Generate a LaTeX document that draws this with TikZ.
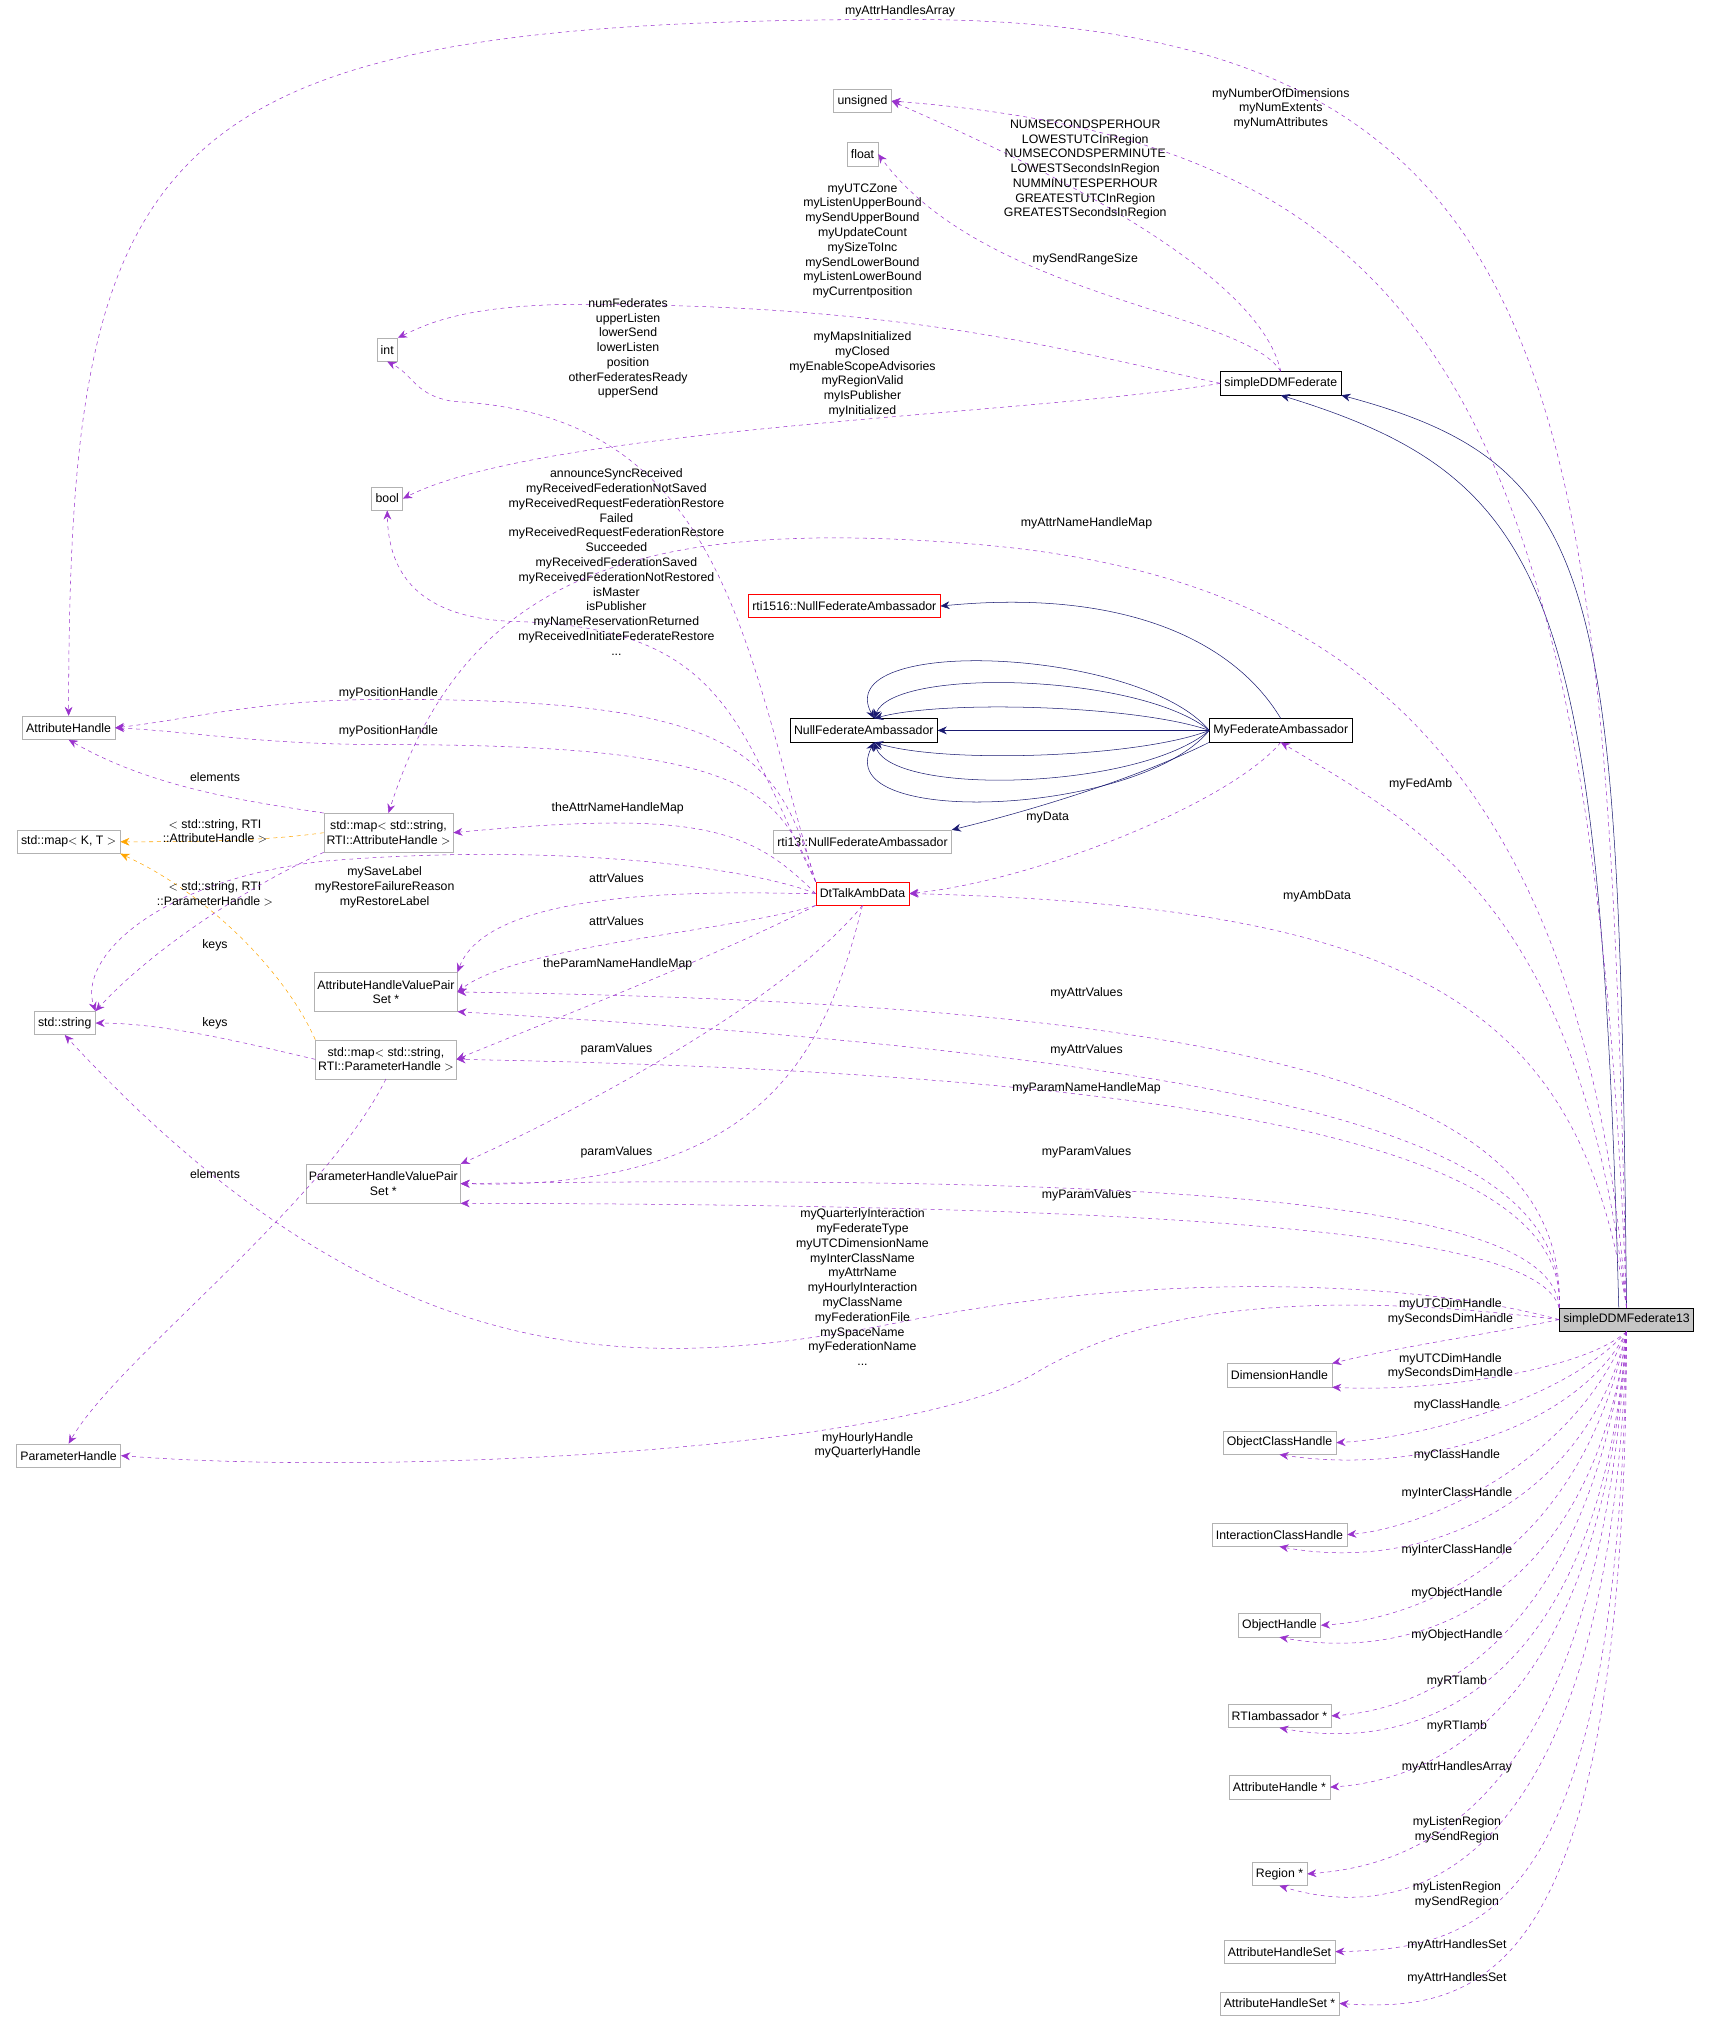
\documentclass[tikz,border=0pt]{standalone}
\usepackage{fontspec}
\setmainfont{Liberation Sans}
\usetikzlibrary{arrows.meta}
\definecolor{dep}{HTML}{9A32CD}
\definecolor{inh}{HTML}{191970}
\definecolor{tpl}{HTML}{FFA500}
\begin{document}
\begin{tikzpicture}[x=1pt,y=-1pt,
  every node/.style={font=\fontsize{9.5}{11.4}\selectfont},
  box/.style={draw=gray!60,fill=white,inner sep=3pt,minimum height=18pt,align=center},
  bbox/.style={box,draw=black},
  rbox/.style={box,draw=red},
  lab/.style={align=center,inner sep=0pt},
  d/.style={dashed,draw=dep,-{Stealth[length=7pt,width=6pt]}},
  o/.style={dashed,draw=tpl,-{Stealth[length=7pt,width=6pt]}},
  s/.style={draw=inh,-{Stealth[length=7pt,width=6pt]}}]
\useasboundingbox (0,0) rectangle (1320,1566);
\node[box] (uns) at (666,78) {unsigned};
\node[box] (flt) at (666,119) {float};
\node[box] (int) at (299,270) {int};
\node[box] (bool) at (299,385) {bool};
\node[box] (ah) at (53,562) {AttributeHandle};
\node[box] (mkt) at (53,650) {std::map$<$ K, T $>$};
\node[box] (str) at (50,790) {std::string};
\node[box] (ph) at (53,1124) {ParameterHandle};
\node[bbox] (sdf) at (989,296) {simpleDDMFederate};
\node[rbox] (r1516) at (652,468) {rti1516::NullFederateAmbassador};
\node[bbox] (nfa) at (667,564) {NullFederateAmbassador};
\node[bbox] (mfa) at (989,564) {MyFederateAmbassador};
\node[box] (r13) at (666,650) {rti13::NullFederateAmbassador};
\node[rbox] (dt) at (666,690) {DtTalkAmbData};
\node[box,minimum height=30pt,inner sep=2pt] (mah) at (300,643) {std::map$<$ std::string,\\RTI::AttributeHandle $>$};
\node[box,minimum height=30pt,inner sep=2pt] (ahv) at (298,766) {AttributeHandleValuePair\\Set *};
\node[box,minimum height=30pt,inner sep=2pt] (mph) at (298,818) {std::map$<$ std::string,\\RTI::ParameterHandle $>$};
\node[box,minimum height=30pt,inner sep=2pt] (phv) at (296,914) {ParameterHandleValuePair\\Set *};
\node[draw=black,fill=gray!45,inner sep=3pt,minimum height=18pt] (sd) at (1256,1019) {simpleDDMFederate13};
\node[box] (dim) at (988,1062) {DimensionHandle};
\node[box] (och) at (988,1114) {ObjectClassHandle};
\node[box] (ich) at (988,1185) {InteractionClassHandle};
\node[box] (oh) at (988,1255) {ObjectHandle};
\node[box] (rti) at (988,1325) {RTIambassador *};
\node[box] (ahp) at (988,1380) {AttributeHandle *};
\node[box] (reg) at (988,1447) {Region *};
\node[box] (ahs) at (988,1507) {AttributeHandleSet};
\node[box] (ahsp) at (988,1547) {AttributeHandleSet *};
% inheritance
\draw[s] (sd.north) .. controls (1250,450) and (1240,360) .. (sdf.south east);
\draw[s] ([xshift=-6pt]sd.north) .. controls (1235,460) and (1200,370) .. (sdf.south);
\draw[s] (mfa.north) .. controls (950,490) and (860,455) .. (r1516.east);
\draw[s] (mfa.west) .. controls (880,500) and (640,490) .. ([xshift=8pt]nfa.north);
\draw[s] (mfa.west) .. controls (880,520) and (690,515) .. ([xshift=8pt]nfa.north);
\draw[s] (mfa.west) .. controls (880,545) and (730,540) .. ([xshift=8pt]nfa.north);
\draw[s] (mfa.west) -- (nfa.east);
\draw[s] (mfa.west) .. controls (880,585) and (730,590) .. ([xshift=8pt]nfa.south);
\draw[s] (mfa.west) .. controls (880,610) and (690,615) .. ([xshift=8pt]nfa.south);
\draw[s] (mfa.west) .. controls (880,630) and (640,640) .. ([xshift=8pt]nfa.south);
\draw[s] (mfa.south west) .. controls (880,600) and (800,625) .. (r13.north east);
% simpleDDMFederate deps
\draw[d] (sdf.north) .. controls (970,200) and (760,110) .. (uns.east);
\node[lab] at (838,131) {NUMSECONDSPERHOUR\\LOWESTUTCInRegion\\NUMSECONDSPERMINUTE\\LOWESTSecondsInRegion\\NUMMINUTESPERHOUR\\GREATESTUTCInRegion\\GREATESTSecondsInRegion};
\draw[d] (sdf.north) .. controls (960,240) and (760,230) .. (flt.east);
\node[lab] at (838,200) {mySendRangeSize};
\draw[d] (sdf.west) .. controls (820,270) and (700,235) .. (450,235) .. controls (360,235) and (330,250) .. (int.north east);
\node[lab] at (666,186) {myUTCZone\\myListenUpperBound\\mySendUpperBound\\myUpdateCount\\mySizeToInc\\mySendLowerBound\\myListenLowerBound\\myCurrentposition};
\draw[d] (sdf.west) .. controls (800,320) and (420,330) .. (bool.east);
\node[lab] at (666,289) {myMapsInitialized\\myClosed\\myEnableScopeAdvisories\\myRegionValid\\myIsPublisher\\myInitialized};
% DtTalkAmbData deps
\draw[d] (dt.north west) .. controls (575,500) and (560,320) .. (350,310) .. controls (320,305) and (320,290) .. (int.south);
\node[lab] at (485,269) {numFederates\\upperListen\\lowerSend\\lowerListen\\position\\otherFederatesReady\\upperSend};
\draw[d] (dt.north west) .. controls (570,560) and (560,485) .. (400,480) .. controls (320,478) and (300,440) .. (bool.south);
\node[lab] at (476,434) {announceSyncReceived\\myReceivedFederationNotSaved\\myReceivedRequestFederationRestore\\Failed\\myReceivedRequestFederationRestore\\Succeeded\\myReceivedFederationSaved\\myReceivedFederationNotRestored\\isMaster\\isPublisher\\myNameReservationReturned\\myReceivedInitiateFederateRestore\\...};
\draw[d] (dt.north west) .. controls (600,580) and (570,540) .. (300,540) .. controls (200,540) and (150,555) .. (ah.east);
\node[lab,fill=white] at (300,535) {myPositionHandle};
\draw[d] (dt.north west) .. controls (600,610) and (580,575) .. (300,575) .. controls (200,575) and (150,565) .. (ah.east);
\node[lab,fill=white] at (300,565) {myPositionHandle};
\draw[d] (dt.west) .. controls (580,640) and (540,625) .. (mah.east);
\node[lab] at (477,624) {theAttrNameHandleMap};
\draw[d] (dt.west) .. controls (580,670) and (430,650) .. (250,665) .. controls (120,680) and (60,740) .. (str.north east);
\node[lab] at (297,685) {mySaveLabel\\myRestoreFailureReason\\myRestoreLabel};
\draw[d] (dt.west) .. controls (580,690) and (380,680) .. (ahv.north east);
\node[lab] at (476,678) {attrValues};
\draw[d] (dt.south west) .. controls (560,720) and (400,730) .. (ahv.east);
\node[lab] at (476,711) {attrValues};
\draw[d] (dt.south west) .. controls (550,740) and (420,790) .. (mph.east);
\node[lab] at (477,745) {theParamNameHandleMap};
\draw[d] (dt.south) .. controls (600,780) and (420,870) .. (phv.north east);
\node[lab] at (476,810) {paramValues};
\draw[d] (dt.south) .. controls (640,800) and (600,920) .. (phv.east);
\node[lab] at (476,890) {paramValues};
% maps
\draw[d] (mah.north west) .. controls (200,620) and (120,610) .. (ah.south);
\node[lab] at (166,600) {elements};
\draw[o] (mah.west) .. controls (200,650) and (140,650) .. (mkt.east);
\node[lab] at (166,642) {$<$ std::string, RTI\\::AttributeHandle $>$};
\draw[o] (mph.north west) .. controls (220,750) and (160,690) .. (mkt.south east);
\node[lab] at (166,690) {$<$ std::string, RTI\\::ParameterHandle $>$};
\draw[d] (mah.south west) .. controls (200,680) and (120,730) .. (str.north east);
\node[lab] at (166,730) {keys};
\draw[d] (mph.west) .. controls (200,808) and (130,790) .. (str.east);
\node[lab] at (166,790) {keys};
\draw[d] (mph.south) .. controls (250,930) and (90,1050) .. (ph.north);
\node[lab] at (166,907) {elements};
% simpleDDMFederate13 deps
\draw[d] (sd.north) .. controls (1240,300) and (1220,15) .. (700,15) .. controls (120,15) and (53,100) .. (ah.north);
\node[lab,fill=white] at (695,9) {myAttrHandlesArray};
\draw[d] (sd.north) .. controls (1230,300) and (1100,110) .. (uns.east);
\node[lab] at (989,84) {myNumberOfDimensions\\myNumExtents\\myNumAttributes};
\draw[d] (sd.north) .. controls (1220,550) and (1000,440) .. (750,420) .. controls (500,400) and (360,440) .. (mah.north);
\node[lab] at (839,404) {myAttrNameHandleMap};
\draw[d] (sd.north) .. controls (1220,700) and (1100,640) .. (mfa.south);
\node[lab] at (1097,606) {myFedAmb};
\draw[d] (mfa.south) .. controls (950,620) and (800,680) .. (dt.east);
\node[lab] at (809,631) {myData};
\draw[d] (sd.north) .. controls (1220,780) and (1100,700) .. (dt.east);
\node[lab] at (1017,692) {myAmbData};
\draw[d] (sd.north west) .. controls (1210,850) and (1000,775) .. (ahv.east);
\node[lab] at (839,767) {myAttrValues};
\draw[d] (sd.north west) .. controls (1210,880) and (1000,820) .. (ahv.south east);
\node[lab] at (839,811) {myAttrValues};
\draw[d] (sd.north west) .. controls (1210,900) and (1000,830) .. (mph.east);
\node[lab] at (839,840) {myParamNameHandleMap};
\draw[d] (sd.north west) .. controls (1200,940) and (1000,905) .. (phv.east);
\node[lab] at (839,890) {myParamValues};
\draw[d] (sd.north west) .. controls (1190,960) and (1000,930) .. (phv.south east);
\node[lab] at (839,923) {myParamValues};
\draw[d] (sd.west) .. controls (1100,990) and (900,980) .. (700,1020) .. controls (500,1060) and (300,1070) .. (str.south);
\node[lab] at (666,994) {myQuarterlyInteraction\\myFederateType\\myUTCDimensionName\\myInterClassName\\myAttrName\\myHourlyInteraction\\myClassName\\myFederationFile\\mySpaceName\\myFederationName\\...};
\draw[d] (sd.west) .. controls (1050,1000) and (900,1000) .. (800,1060) .. controls (700,1120) and (300,1140) .. (ph.east);
\node[lab] at (670,1116) {myHourlyHandle\\myQuarterlyHandle};
\draw[d] (sd.west) .. controls (1150,1030) and (1080,1040) .. (dim.north east);
\node[lab] at (1120,1013) {myUTCDimHandle\\mySecondsDimHandle};
\draw[d] (sd.south) .. controls (1220,1060) and (1100,1075) .. (dim.south east);
\node[lab] at (1120,1055) {myUTCDimHandle\\mySecondsDimHandle};
\draw[d] (sd.south) .. controls (1210,1080) and (1100,1110) .. (och.east);
\node[lab] at (1125,1085) {myClassHandle};
\draw[d] (sd.south) .. controls (1220,1100) and (1100,1140) .. (och.south);
\node[lab] at (1125,1124) {myClassHandle};
\draw[d] (sd.south) .. controls (1215,1130) and (1100,1180) .. (ich.east);
\node[lab] at (1125,1153) {myInterClassHandle};
\draw[d] (sd.south) .. controls (1225,1160) and (1100,1215) .. (ich.south);
\node[lab] at (1125,1197) {myInterClassHandle};
\draw[d] (sd.south) .. controls (1220,1200) and (1100,1250) .. (oh.east);
\node[lab] at (1125,1230) {myObjectHandle};
\draw[d] (sd.south) .. controls (1230,1230) and (1100,1285) .. (oh.south);
\node[lab] at (1125,1263) {myObjectHandle};
\draw[d] (sd.south) .. controls (1225,1270) and (1100,1320) .. (rti.east);
\node[lab] at (1125,1298) {myRTIamb};
\draw[d] (sd.south) .. controls (1235,1300) and (1100,1355) .. (rti.south);
\node[lab] at (1125,1333) {myRTIamb};
\draw[d] (sd.south) .. controls (1235,1330) and (1100,1375) .. (ahp.east);
\node[lab] at (1125,1365) {myAttrHandlesArray};
\draw[d] (sd.south) .. controls (1235,1390) and (1100,1440) .. (reg.east);
\node[lab] at (1125,1413) {myListenRegion\\mySendRegion};
\draw[d] (sd.south) .. controls (1245,1430) and (1100,1490) .. (reg.south);
\node[lab] at (1125,1463) {myListenRegion\\mySendRegion};
\draw[d] (sd.south) .. controls (1250,1470) and (1150,1505) .. (ahs.east);
\node[lab] at (1125,1502) {myAttrHandlesSet};
\draw[d] (sd.south) .. controls (1255,1520) and (1150,1555) .. (ahsp.east);
\node[lab] at (1125,1528) {myAttrHandlesSet};
\end{tikzpicture}
\end{document}
